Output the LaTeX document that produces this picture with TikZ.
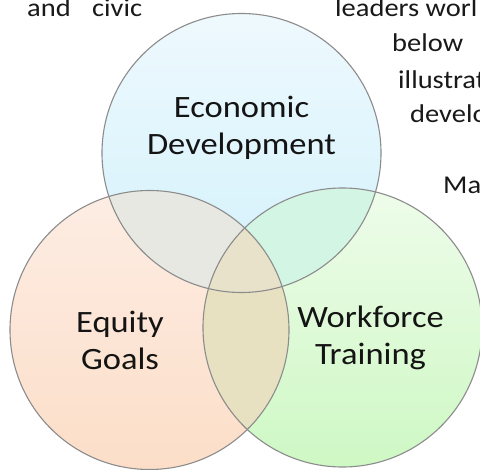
\documentclass[tikz,border=0pt]{standalone}
\usepackage{fontspec}
\setmainfont{Carlito}
% glyphs set slightly condensed in height
\newcommand{\squat}[1]{\scalebox{1}[0.9]{#1}}
\begin{document}
\begin{tikzpicture}[x=1pt,y=-1pt,
  venn/.style={circle,minimum size=279pt,inner sep=0pt},
  rim/.style={draw=black!45,line width=1.1pt},
  bodytext/.style={anchor=base west,inner sep=0pt,font=\fontsize{28.5}{34}\selectfont,text=black!90},
  label/.style={anchor=base,inner sep=0pt,align=center,font=\fontsize{34.5}{37.5}\selectfont,text=black!92}]
\definecolor{bluetop}{RGB}{238,249,253}
\definecolor{bluebot}{RGB}{210,241,252}
\definecolor{peachtop}{RGB}{253,237,228}
\definecolor{peachbot}{RGB}{252,222,200}
\definecolor{greentop}{RGB}{238,252,234}
\definecolor{greenbot}{RGB}{206,248,196}
\definecolor{ovab}{RGB}{231,232,226}
\definecolor{ovac}{RGB}{211,245,228}
\definecolor{ovbc}{RGB}{231,224,193}
\definecolor{ovabc}{RGB}{232,226,203}
\useasboundingbox (0,0) rectangle (480,470);
\clip (0,0) rectangle (480,470);
\fill[white] (0,0) rectangle (480,470);

% text of the page behind the diagram
\node[bodytext] (t1) at (27,17) {\squat{and\hspace{0.75em}civic}};
\node[bodytext] (t2) at (335,16.5) {\squat{leaders worl}};
\node[bodytext] (t3) at (392,52) {\squat{below}};
\node[bodytext] (t4) at (398,89) {\squat{illustrat}};
\node[bodytext] (t5) at (410,123) {\squat{develo}};
\node[bodytext] (t6) at (443,194) {\squat{Ma}};

% the three circles
\node[venn,top color=bluetop,bottom color=bluebot] (econ) at (241.5,153) {};
\node[venn,top color=peachtop,bottom color=peachbot] (equity) at (149.5,330) {};
\node[venn,top color=greentop,bottom color=greenbot] (work) at (342.5,327.5) {};

% overlaps
\begin{scope}
  \clip (econ.center) circle (139.5pt);
  \fill[ovab] (equity.center) circle (139.5pt);
  \fill[ovac] (work.center) circle (139.5pt);
\end{scope}
\begin{scope}
  \clip (equity.center) circle (139.5pt);
  \fill[ovbc] (work.center) circle (139.5pt);
  \clip (work.center) circle (139.5pt);
  \fill[ovabc] (econ.center) circle (139.5pt);
\end{scope}

% outlines on top of all fills
\foreach \c in {econ,equity,work}
  \draw[rim] (\c.center) circle (139.5pt);

% circle labels (anchored at the baseline of the last line)
\node[label] (econlabel) at (241.5,155) {\squat{Economic}\\\squat{Development}};
\node[label] (equitylabel) at (120,370) {\squat{Equity}\\\squat{Goals}};
\node[label] (worklabel) at (370.5,365) {\squat{Workforce}\\\squat{Training}};
\end{tikzpicture}
\end{document}
